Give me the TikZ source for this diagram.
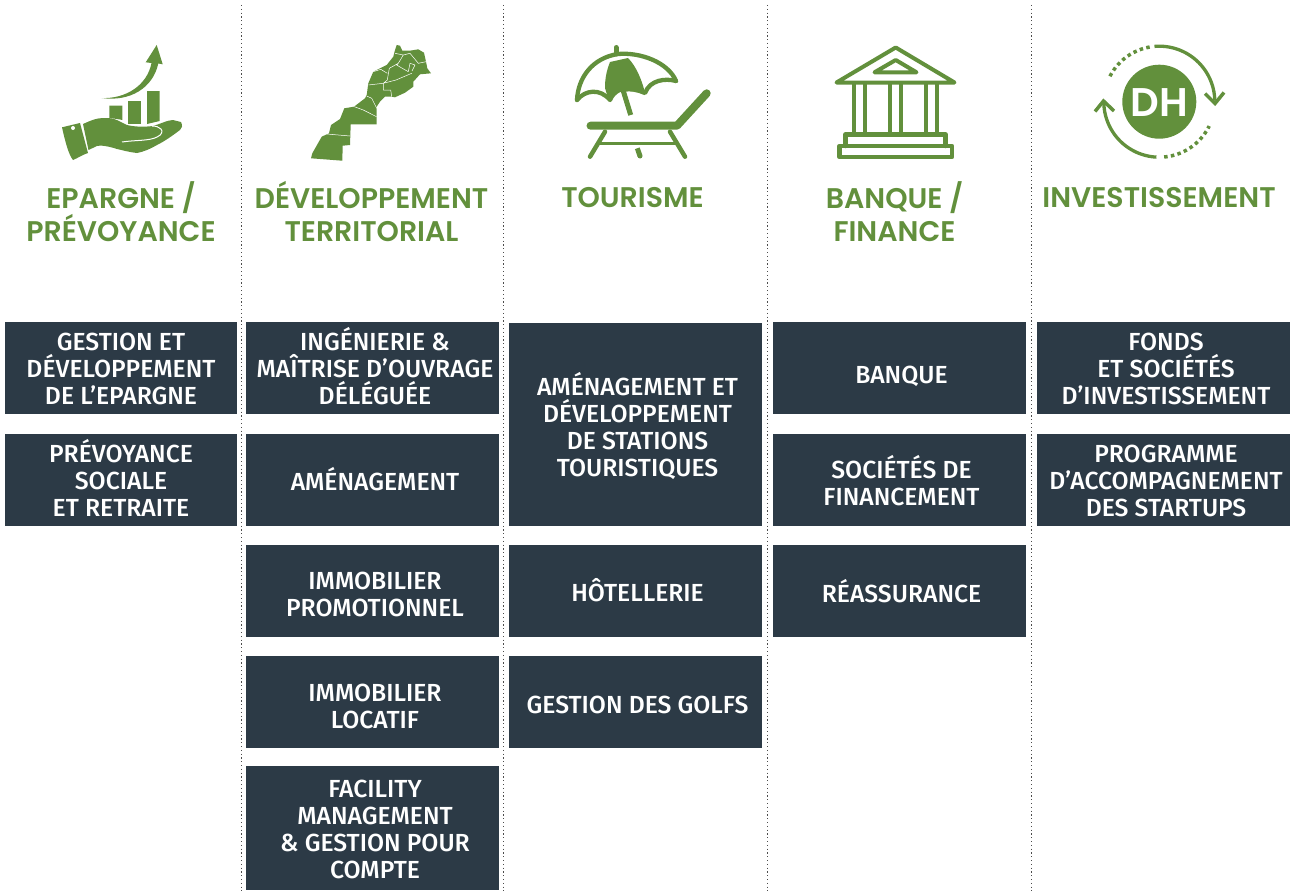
\documentclass[tikz,border=0pt]{standalone}
\usepackage{fontspec}
\setmainfont{Fira Sans}[UprightFont=* Medium,BoldFont=* SemiBold]
\newfontfamily\headfont{Poppins SemiBold}
\usetikzlibrary{arrows.meta}
\definecolor{gr}{HTML}{62903C}
\definecolor{nv}{HTML}{2C3A46}
\newcommand{\cellstrut}{\rule[-8pt]{0pt}{34pt}}
\newcommand{\headstrut}{\rule[-10pt]{0pt}{40pt}}
\tikzset{
 cellbg/.style={fill=nv,inner sep=0pt,anchor=north west},
 celltx/.style={text=white,inner sep=0pt,align=center,anchor=center,font=\fontsize{24.7}{27}\selectfont,
   execute at begin node=\cellstrut,execute at end node=\cellstrut},
 head/.style={text=gr,inner sep=0pt,align=center,anchor=center,font=\fontsize{28.4}{33.2}\selectfont\headfont,
   execute at begin node=\headstrut,execute at end node=\headstrut},
 sep/.style={draw=black!70,line width=1.2pt,dash pattern=on 1.2pt off 2.6pt},
 ic/.style={draw=gr,line width=4.5pt,line cap=round,line join=round},
 fl/.style={fill=gr},
 wl/.style={draw=white,line width=.5pt,line join=round},
}
\begin{document}
\begin{tikzpicture}[x=1pt,y=-1pt]
\useasboundingbox (0,0) rectangle (1292,891);
% separators
\foreach \n/\x in {a/241.5,b/503.5,c/767.5,d/1031.5}{
 \coordinate (\n1) at (\x,5); \coordinate (\n2) at (\x,891);
 \draw[sep] (\n1)--(\n2);}
% headings
\newcommand{\headline}[4]{\node[head] (#1) at (#2,#3) {#4};}
\headline{h1}{121}{216.2}{EPARGNE /\\PRÉVOYANCE}
\headline{h2}{371.5}{216.2}{DÉVELOPPEMENT\\TERRITORIAL}
\headline{h3}{632.5}{197.5}{TOURISME}
\headline{h4}{894.5}{216.2}{BANQUE /\\FINANCE}
\headline{h5}{1159}{197.5}{INVESTISSEMENT}
% cells: name, x, y, w, h, text x, text y, text
\newcommand{\cellbox}[8]{\node[cellbg,minimum width=#4pt,minimum height=#5pt] (#1) at (#2,#3) {};
 \node[celltx] (#1t) at (#6,#7) {#8};}
\cellbox{a1}{5}{322}{232}{92}{121}{372.7}{GESTION ET\\DÉVELOPPEMENT\\DE L’EPARGNE}
\cellbox{a2}{5}{434}{232}{92}{121}{481.7}{PRÉVOYANCE\\SOCIALE\\ET RETRAITE}
\cellbox{b1}{246}{322}{253}{92}{375}{369.7}{INGÉNIERIE \&\\MAÎTRISE D’OUVRAGE\\DÉLÉGUÉE}
\cellbox{b2}{246}{434}{253}{92}{375}{481}{AMÉNAGEMENT}
\cellbox{b3}{246}{545}{253}{92}{375}{598.7}{IMMOBILIER\\PROMOTIONNEL}
\cellbox{b4}{246}{656}{253}{92}{375}{710.7}{IMMOBILIER\\LOCATIF}
\cellbox{b5}{246}{766}{253}{124}{375}{833.2}{FACILITY\\MANAGEMENT\\\& GESTION POUR\\COMPTE}
\cellbox{c1}{509}{323}{253}{203}{637.5}{428}{AMÉNAGEMENT ET\\DÉVELOPPEMENT\\DE STATIONS\\TOURISTIQUES}
\cellbox{c2}{509}{545}{253}{92}{637.5}{592.7}{HÔTELLERIE}
\cellbox{c3}{509}{656}{253}{92}{637.5}{704}{GESTION DES GOLFS}
\cellbox{d1}{773}{322}{253}{92}{901.5}{374.5}{BANQUE}
\cellbox{d2}{773}{434}{253}{92}{901.5}{484}{SOCIÉTÉS DE\\FINANCEMENT}
\cellbox{d3}{773}{545}{253}{92}{901.5}{593.7}{RÉASSURANCE}
\cellbox{e1}{1037}{322}{253}{92}{1166}{372.7}{FONDS\\ET SOCIÉTÉS\\D’INVESTISSEMENT}
\cellbox{e2}{1037}{434}{253}{92}{1166}{484.7}{PROGRAMME\\D’ACCOMPAGNEMENT\\DES STARTUPS}
% --- icon 1: hand, bars, arrow
\fill[fl] (62,127.3) -- (80,123) -- (88,153) .. controls (82,155) and (78,158) .. (73,160) .. controls (69,155) and (66,145) .. (62,127.3) -- cycle;
\fill[white] (73,128) circle (2);
\fill[fl] (83,124) .. controls (90,121) and (95,118) .. (105,118) .. controls (115,117.5) and (120,122) .. (127,125)
 .. controls (135,127) and (145,127) .. (153,126) .. controls (160,124) and (168,120) .. (173,120)
 -- (181,122) .. controls (183,126) and (182,128) .. (180,130) .. controls (172,136) and (165,141) .. (157,145)
 .. controls (150,149) and (143,152) .. (137,153) .. controls (128,152) and (122,150) .. (117,149)
 .. controls (108,146) and (100,145) .. (97,146) -- (88.5,150) -- cycle;
\draw[white,line width=1pt] (122,142) .. controls (135,140) and (150,141) .. (157,137) .. controls (162,135) and (163,131) .. (161,129) .. controls (159,127) and (156,126) .. (152,126);
\fill[fl] (109.3,105.7) -- (122.3,105.7) -- (122.3,120) .. controls (118,119) and (113,118.5) .. (109.3,118) -- cycle;
\fill[fl] (128.3,100.7) rectangle (141,124);
\fill[fl] (147,91) -- (159.7,91) -- (159.7,121) -- (147,124) -- cycle;
\fill[fl] (101.7,98) .. controls (125,99) and (147,86) .. (151.5,63) -- (145.7,62.3) -- (156.7,45) -- (162.7,64.3) -- (158.3,63.5) .. controls (153,88) and (130,102) .. (101.7,98) -- cycle;
% --- icon 2: map of Morocco
\fill[fl] (396.7,45) -- (400,45.7) -- (402.3,50.7) -- (411,50.5) -- (418.3,49.3) -- (424,52.7) -- (426,61.7) -- (427.3,68.3) -- (431,73.3) -- (420,74.3) -- (413.3,81.7) -- (413.3,86.7) -- (405,92.7) -- (395,97.3) -- (391.7,96.7) -- (385,96.7) -- (380,101.7) -- (376.7,106.7) -- (376.7,124.3) -- (350.7,124.3) -- (350,145) -- (342.7,145.7) -- (342.3,160.7) -- (311,158.3) -- (312.3,153.3) -- (321.7,136.7) -- (329,133.3) -- (331,125) -- (340,119) -- (344.3,108.3) -- (354,106.7) -- (365,98.3) -- (366.7,95) -- (368.3,83.3) -- (373.3,71.7) -- (386.7,65) -- (393.3,56.7) -- (395,50) -- cycle;
\draw[wl] (395,53.3) -- (403.3,55) -- (398.3,63.3) -- (389.3,68.3) -- (387.3,80) -- (383.3,83.3) -- (368.3,85)
 (373.3,71.7) -- (380.7,69.3) -- (387.3,73.3)
 (383.3,83.3) -- (396,80) -- (411.7,73.3)
 (398.3,63.3) -- (396.7,65) -- (400,67) -- (408.3,71.7)
 (403.3,55) -- (410,53.3) -- (418.3,63.3) -- (426,61.7)
 (408.3,71.7) -- (410,63.3) -- (415,65) -- (412,71)
 (383.3,83.3) -- (383.3,90) -- (390.7,90) -- (391.7,96.7)
 (366.7,96) -- (371.7,98.3) -- (376.7,108.3)
 (354.3,106.7) -- (363.3,110) -- (376.5,116.7)
 (326.7,134) -- (338.3,135) -- (350,136);
% --- icon 3: umbrella and lounger
\draw[gr,line width=5pt,line cap=round] (616,47.5) -- (616,54);
\draw[ic,line width=4.3pt] (577,100) .. controls (578,78) and (592,58) .. (618,54) .. controls (640,52) and (668,62) .. (676,81);
\draw[ic,line width=4.3pt] (577,100) .. controls (585,90) and (600,88) .. (610,100) .. controls (613,92) and (622,88) .. (623,90);
\draw[ic,line width=4.3pt] (676,81) .. controls (665,78) and (650,80) .. (645,93) .. controls (638,90) and (630,88) .. (623,90);
\fill[fl] (610,62) .. controls (606,72) and (605,80) .. (605,88) -- (608,98) .. controls (612,92) and (618,89) .. (623,90) -- (645,93) .. controls (642,80) and (636,66) .. (628,58) -- cycle;
\draw[gr,line width=5pt] (623,90) -- (630.7,115);
\draw[ic,line width=8pt] (590.5,125.7) -- (677,125.7) -- (706.7,93.3);
\draw[ic] (605,131.7) -- (590,156.7);
\draw[ic] (670,131.7) -- (685,156.7);
\draw[gr,line width=3.5pt] (598,143.3) -- (677,143.3);
\draw[gr,line width=5pt] (637.3,148.3) -- (640,156);
\fill[fl] (640,156) circle (2.5);
% --- icon 4: bank
\draw[ic,line width=4pt] (836.5,82.5) -- (895.7,47.5) -- (954.5,82.5) -- cycle;
\draw[ic,line width=4pt] (874.5,72.3) -- (895.7,60) -- (916.5,72.3) -- cycle;
\foreach \x in {854,865,890,901,926,937}{\draw[gr,line width=4.3pt] (\x,82) -- (\x,135);}
\draw[ic,line width=4.5pt] (845.5,146) -- (845.5,134.5) -- (945.5,134.5) -- (945.5,146);
\draw[ic,line width=4.5pt] (839.5,146) rectangle (952,157);
% --- icon 5: DH cycle
\fill[fl] (1159.3,101.7) circle (37);
\node[inner sep=0pt,text=white,font=\fontsize{40}{40}\selectfont\headfont] (dh) at (1159.3,103) {DH};
\draw[gr,line width=3.3pt] plot[domain=-95:-1,samples=40] ({1159.3+55.5*cos(\x)},{101.7+55.5*sin(\x)});
\draw[gr,line width=3.5pt] (1205,93.5) -- (1215,103.5) -- (1224,92.5);
\draw[gr,line width=3.3pt] plot[domain=93:180,samples=40] ({1159.3+55.5*cos(\x)},{101.7+55.5*sin(\x)});
\draw[gr,line width=3.5pt] (1095,111.5) -- (1103.5,101) -- (1114,111);
\draw[gr,line width=3.5pt,dash pattern=on 3.5pt off 3.3pt] plot[domain=-100:-153,samples=30] ({1159.3+55.5*cos(\x)},{101.7+55.5*sin(\x)});
\draw[gr,line width=3.5pt,dash pattern=on 3.5pt off 3.3pt] plot[domain=85:26,samples=30] ({1159.3+55.5*cos(\x)},{101.7+55.5*sin(\x)});
\end{tikzpicture}
\end{document}
